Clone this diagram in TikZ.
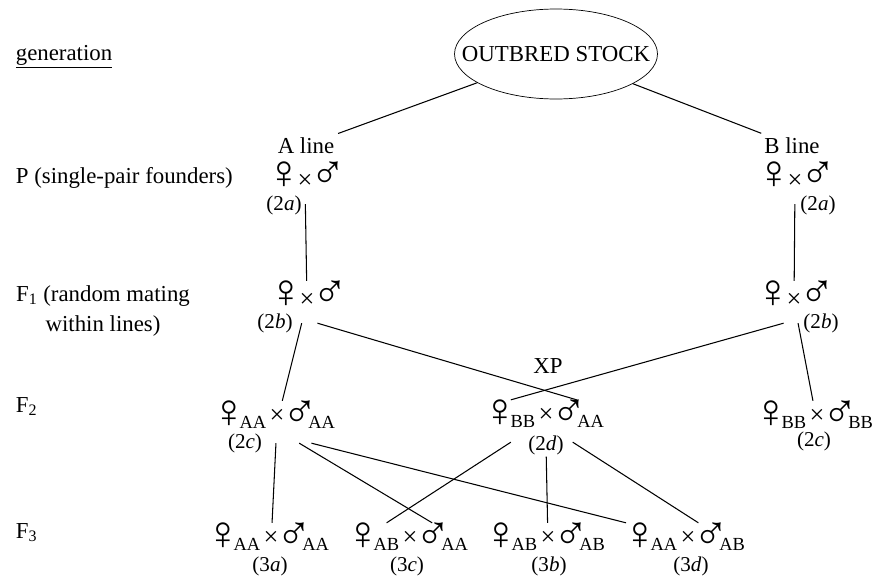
\documentclass[tikz,border=0pt]{standalone}
\usepackage{fontspec}
\setmainfont{Liberation Serif}
\usetikzlibrary{positioning, shapes.geometric}

\newcommand{\femalesign}{\kern-2pt{\fontsize{27}{27}\selectfont ♀}\kern-4.5pt}
\newcommand{\malesign}{\kern-3pt{\fontsize{27}{27}\selectfont ♂}\kern-5.5pt}
\newcommand{\gsub}[1]{\raisebox{-1pt}{\fontsize{10.5}{12}\selectfont #1}}
\newcommand{\crossmark}[1]{\if\relax\detokenize{#1}\relax ×\else\raisebox{2pt}{×}\fi}
% one mating: female, cross and male as three nodes
\newcommand{\matepair}[5]{%
  \node[cross] (#1x) at (#2,#3) {\crossmark{#4}};
  \node[sexsym,base left=0pt of #1x] (#1f) {\femalesign\gsub{#4}};
  \node[sexsym,base right=0pt of #1x] (#1m) {\malesign\gsub{#5}};
}

\begin{document}
\begin{tikzpicture}[
    x=0.02cm, y=-0.02cm,
    plain/.style={font=\fontsize{13}{17}\selectfont,inner sep=2pt},
    lbl/.style={font=\fontsize{12}{14}\selectfont,anchor=base,inner sep=1pt},
    sexsym/.style={font=\fontsize{13}{16}\selectfont,inner sep=0pt,text height=14.7pt,text depth=9pt},
    cross/.style={sexsym,font=\fontsize{15}{16}\selectfont,inner xsep=1.5pt},
    link/.style={line width=0.6pt}
]
\useasboundingbox (0,0) rectangle (881,578);
% generations on the left
\node[plain,anchor=base west] (gen) at (12,60) {\underline{generation}};
\node[plain,anchor=base west] (genP) at (12,183) {P (single-pair founders)};
\node[plain,align=center] (genF1) at (103,311) {F\textsubscript{1} (random mating\\within lines)};
\node[plain,anchor=base west] (genF2) at (12,412) {F\textsubscript{2}};
\node[plain,anchor=base west] (genF3) at (12,538) {F\textsubscript{3}};
% stock and lines
\node[plain,ellipse,draw,inner xsep=-20pt,inner ysep=0pt,minimum width=4.06cm,minimum height=1.8cm] (out) at (556,54) {OUTBRED STOCK};
\node[plain,anchor=base] (Aline) at (306,153) {A line};
\node[plain,anchor=base] (Bline) at (792,153) {B line};
\node[plain,anchor=base] (xp) at (548,373) {XP};
% matings
\matepair{PA}{305}{183}{}{}
\matepair{PB}{795}{183}{}{}
\matepair{FA}{307}{302}{}{}
\matepair{FB}{794}{302}{}{}
\matepair{AA}{277}{422}{AA}{AA}
\matepair{XP}{546}{421}{BB}{AA}
\matepair{BB}{817}{422}{BB}{BB}
\matepair{t3a}{271}{544}{AA}{AA}
\matepair{t3c}{410}{544}{AB}{AA}
\matepair{t3b}{548}{544}{AB}{AB}
\matepair{t3d}{688}{544}{AA}{AB}
% labels
\node[lbl] (PAl) at (284,210) {(2\textit{a})};
\node[lbl] (PBl) at (818,210) {(2\textit{a})};
\node[lbl] (FAl) at (275,328) {(2\textit{b})};
\node[lbl] (FBl) at (821,328) {(2\textit{b})};
\node[lbl] (AAl) at (245,448) {(2\textit{c})};
\node[lbl] (XPl) at (546,450) {(2\textit{d})};
\node[lbl] (BBl) at (814,446) {(2\textit{c})};
\node[lbl] (t3al) at (270,571) {(3\textit{a})};
\node[lbl] (t3cl) at (407,571) {(3\textit{c})};
\node[lbl] (t3bl) at (549,571) {(3\textit{b})};
\node[lbl] (t3dl) at (691,571) {(3\textit{d})};
% descent
\draw[link] (out) -- (Aline);
\draw[link] (out) -- (Bline);
\draw[link] (PAx) -- (FAx);
\draw[link] (PBx) -- (FBx);
\draw[link] (FAx) -- (AAx);
\draw[link] (FAx.south east) -- (XPm.100);
\draw[link] (FBx.south west) -- (XPf.north);
\draw[link] (FBx) -- (BBx);
\draw[link] (AAx) -- (t3ax);
\draw[link] (AAm.-120) -- (t3cm.120);
\draw[link] (AAm.south) -- (t3df.north west);
\draw[link] (XPf.south) -- (t3cf.60);
\draw[link] (XPl) -- (t3bx);
\draw[link] (XPm.-110) -- (t3dm.north west);
\end{tikzpicture}
\end{document}
